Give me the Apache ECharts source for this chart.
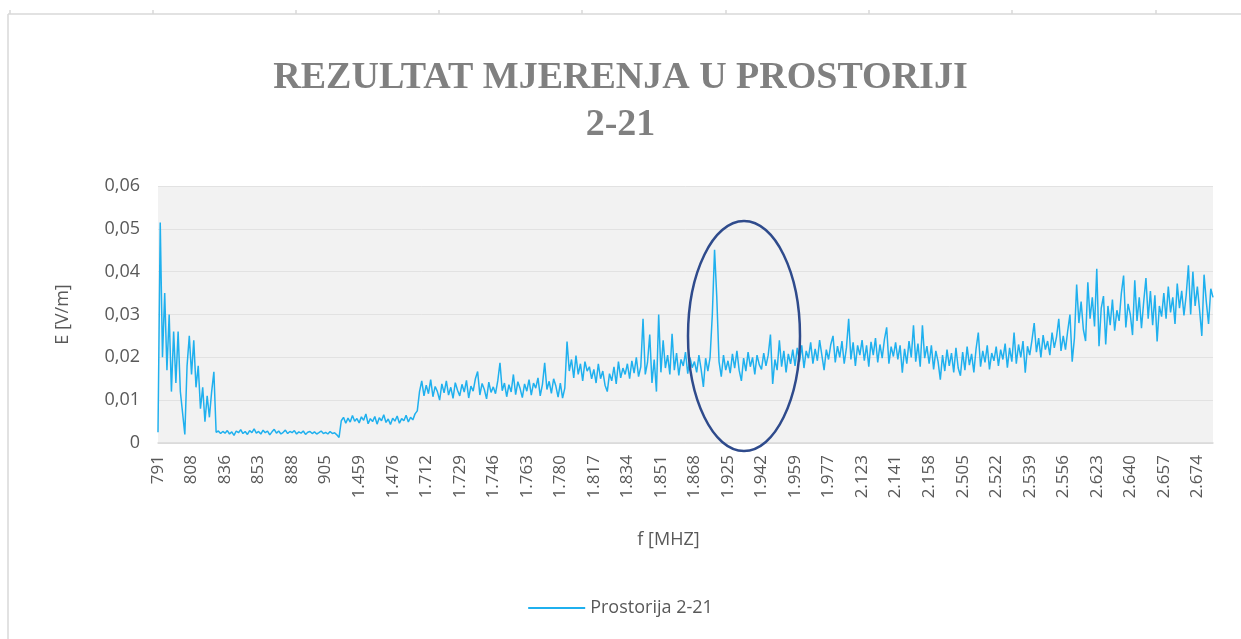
<!DOCTYPE html>
<html>
<head>
<meta charset="utf-8">
<script src="https://cdn.jsdelivr.net/npm/echarts@6/dist/echarts.min.js"></script>
<style>
  html, body { margin: 0; padding: 0; background: #fff; }
  #main1 { width: 1241px; height: 639px; }
</style>
</head>
<body>
<div id="main1"></div>
<script>
    // oznake na x osi (svaka 15. točka mjerenja)
    var tickLabels = ['791','808','836','853','888','905','1.459','1.476','1.712','1.729','1.746','1.763','1.780','1.817','1.834','1.851',
        '1.868','1.925','1.942','1.959','1.977','2.123','2.141','2.158','2.505','2.522','2.539','2.556','2.623','2.640','2.657','2.674'];
    var pointsPerLabel = 15;

    // E [V/m], jedan red = jedan razmak između oznaka
    var prostorija = [
        0.0025,0.0515,0.020,0.035,0.017,0.030,0.012,0.026,0.014,0.026,0.012,0.007,0.002,0.018,0.025,
        0.016,0.024,0.013,0.018,0.008,0.013,0.005,0.011,0.006,0.012,0.0166,0.0025,0.0028,0.0022,0.0027,
        0.0023,0.0029,0.0021,0.0026,0.0018,0.0028,0.0024,0.0031,0.0022,0.0027,0.0020,0.0029,0.0024,0.0033,0.0023,
        0.0027,0.0021,0.0030,0.0024,0.0028,0.0019,0.0026,0.0032,0.0023,0.0028,0.0021,0.0025,0.0030,0.0022,0.0027,
        0.0024,0.0029,0.0021,0.0026,0.0023,0.0028,0.0020,0.0025,0.0027,0.0022,0.0026,0.0021,0.0024,0.0028,0.0022,
        0.0025,0.0021,0.0027,0.0022,0.0024,0.0019,0.0013,0.0052,0.0060,0.0046,0.0058,0.0049,0.0064,0.0051,0.0057,
        0.0047,0.0061,0.0053,0.0068,0.0045,0.0057,0.0050,0.0062,0.0044,0.0059,0.0052,0.0066,0.0048,0.0056,0.0043,
        0.0058,0.0051,0.0063,0.0046,0.0057,0.0052,0.0065,0.0049,0.0060,0.0054,0.0068,0.0075,0.0120,0.0145,0.0110,
        0.0135,0.0115,0.0148,0.0108,0.0132,0.0120,0.0100,0.0138,0.0117,0.0145,0.0112,0.0130,0.0104,0.0141,0.0123,
        0.0110,0.0137,0.0119,0.0146,0.0105,0.0133,0.0121,0.0150,0.0167,0.0112,0.0139,0.0125,0.0103,0.0142,0.0118,
        0.0131,0.0115,0.0145,0.0187,0.0122,0.0140,0.0108,0.0136,0.0119,0.0160,0.0113,0.0143,0.0127,0.0106,0.0138,
        0.0121,0.0148,0.0112,0.0140,0.0128,0.0152,0.0110,0.0137,0.0187,0.0125,0.0144,0.0116,0.0150,0.0133,0.0107,
        0.0140,0.0105,0.0128,0.0237,0.0168,0.0195,0.0152,0.0204,0.0160,0.0185,0.0145,0.0190,0.0168,0.0178,0.0150,
        0.0172,0.0140,0.0185,0.0150,0.0168,0.0135,0.0120,0.0162,0.0145,0.0178,0.0138,0.0190,0.0152,0.0175,0.0160,
        0.0185,0.0150,0.0192,0.0163,0.0200,0.0155,0.0178,0.0290,0.0160,0.0188,0.0253,0.0140,0.0195,0.0120,0.0300,
        0.0165,0.0240,0.0175,0.0205,0.0160,0.0255,0.0170,0.0210,0.0158,0.0195,0.0180,0.0212,0.0162,0.0200,0.0176,
        0.0190,0.0165,0.0205,0.0172,0.0131,0.0198,0.0168,0.0200,0.0300,0.0451,0.0340,0.0190,0.0155,0.0205,0.0170,
        0.0192,0.0163,0.0208,0.0175,0.0215,0.0170,0.0145,0.0198,0.0168,0.0212,0.0178,0.0200,0.0160,0.0205,0.0183,
        0.0172,0.0210,0.0180,0.0205,0.0253,0.0138,0.0195,0.0170,0.0240,0.0178,0.0215,0.0165,0.0208,0.0185,0.0218,
        0.0180,0.0222,0.0190,0.0228,0.0175,0.0215,0.0198,0.0235,0.0185,0.0220,0.0192,0.0240,0.0205,0.0170,0.0218,
        0.0195,0.0230,0.0250,0.0188,0.0226,0.0200,0.0238,0.0185,0.0222,0.0290,0.0195,0.0235,0.0180,0.0228,0.0205,
        0.0240,0.0192,0.0228,0.0178,0.0236,0.0205,0.0245,0.0188,0.0230,0.0198,0.0242,0.0270,0.0185,0.0225,0.0202,
        0.0235,0.0195,0.0228,0.0164,0.0220,0.0185,0.0238,0.0200,0.0275,0.0190,0.0232,0.0178,0.0275,0.0198,0.0226,
        0.0185,0.0228,0.0172,0.0215,0.0190,0.0148,0.0205,0.0168,0.0218,0.0180,0.0210,0.0165,0.0222,0.0175,0.0157,
        0.0212,0.0170,0.0225,0.0182,0.0208,0.0165,0.0220,0.0258,0.0178,0.0215,0.0188,0.0228,0.0172,0.0210,0.0192,
        0.0225,0.0180,0.0218,0.0195,0.0232,0.0176,0.0222,0.0190,0.0258,0.0185,0.0230,0.0200,0.0238,0.0164,0.0226,
        0.0205,0.0240,0.0280,0.0212,0.0245,0.0200,0.0252,0.0218,0.0238,0.0205,0.0258,0.0222,0.0248,0.0290,0.0215,
        0.0250,0.0218,0.0262,0.0300,0.0190,0.0245,0.0370,0.0280,0.0330,0.0265,0.0238,0.0375,0.0290,0.0340,0.0272,
        0.0407,0.0226,0.0315,0.0343,0.0230,0.0320,0.0275,0.0335,0.0262,0.0310,0.0285,0.0350,0.0391,0.0270,0.0325,
        0.0300,0.0252,0.0380,0.0285,0.0340,0.0268,0.0330,0.0385,0.0290,0.0355,0.0275,0.0345,0.0237,0.0320,0.0295,
        0.0350,0.0290,0.0365,0.0305,0.0340,0.0278,0.0372,0.0315,0.0355,0.0298,0.0345,0.0415,0.0300,0.0400,0.0320,
        0.0365,0.0310,0.0250,0.0393,0.0330,0.0278,0.0360,0.0340
    ];

    var yTicks = [0, 0.01, 0.02, 0.03, 0.04, 0.05, 0.06];

    var myChart = echarts.init(document.getElementById('main1'));

    var tekst = '#595959';
    var okvir = '#d9d9d9';
    // crtice na gornjem rubu (kao u Excelu)
    var crtice = [10, 153, 296, 439, 582, 726, 869, 1012, 1156].map(function (x) {
        return { type: 'line', shape: { x1: x, y1: 10, x2: x, y2: 14 }, style: { stroke: okvir, lineWidth: 1.5 } };
    });

    var option = {
        backgroundColor: '#ffffff',
        animation: false,
        title: {
            text: 'REZULTAT MJERENJA U PROSTORIJI\n2-21',
            left: 'center',
            top: 50,
            textStyle: {
                fontFamily: 'Liberation Serif',
                fontWeight: 'bold',
                fontSize: 38,
                lineHeight: 47,
                color: '#808080'
            }
        },
        legend: {
            bottom: 17,
            left: 'center',
            icon: 'rect',
            itemWidth: 57,
            itemHeight: 2,
            itemGap: 8,
            textStyle: { fontFamily: 'Open Sans', fontSize: 18, color: tekst },
            data: ['Prostorija 2-21']
        },
        grid: {
            left: 158,
            right: 28,
            top: 186,
            bottom: 196,
            show: true,
            backgroundColor: '#f2f2f2',
            borderWidth: 0
        },
        xAxis: {
            type: 'category',
            boundaryGap: false,
            data: prostorija.map(function (v, i) { return i; }),
            name: 'f [MHZ]',
            nameLocation: 'middle',
            nameGap: 88,
            nameTextStyle: { fontFamily: 'Open Sans', fontSize: 18, color: tekst, padding: [0, 34, 0, 0] },
            axisLine: { lineStyle: { color: okvir, width: 1.5 } },
            axisTick: { show: false },
            splitLine: { show: false },
            axisLabel: {
                interval: pointsPerLabel - 1,
                rotate: 90,
                margin: 12,
                fontFamily: 'Open Sans',
                fontSize: 17,
                color: tekst,
                formatter: function (v, i) {
                    return tickLabels[Math.round(i / pointsPerLabel)] || '';
                }
            }
        },
        yAxis: {
            type: 'value',
            min: yTicks[0],
            max: yTicks[yTicks.length - 1],
            interval: 0.01,
            name: 'E [V/m]',
            nameLocation: 'middle',
            nameGap: 86,
            nameRotate: 90,
            nameTextStyle: { fontFamily: 'Open Sans', fontSize: 18, color: tekst },
            axisLine: { show: false },
            axisTick: { show: false },
            splitLine: { lineStyle: { color: '#e2e2e2', width: 1 } },
            axisLabel: {
                margin: 18,
                fontFamily: 'Open Sans',
                fontSize: 18,
                color: tekst,
                formatter: function (v) {
                    return v === 0 ? '0' : v.toFixed(2).replace('.', ',');
                }
            }
        },
        graphic: crtice.concat([
            { type: 'line', shape: { x1: 8, y1: 14, x2: 1241, y2: 14 }, style: { stroke: okvir, lineWidth: 1.5 } },
            { type: 'line', shape: { x1: 8, y1: 14, x2: 8, y2: 639 }, style: { stroke: okvir, lineWidth: 1.5 } },
            {
                type: 'ellipse',
                z: 100,
                shape: { cx: 744, cy: 336, rx: 56, ry: 115 },
                style: { fill: null, stroke: '#2f4b8c', lineWidth: 2.5 }
            }
        ]),
        series: [
            {
                name: 'Prostorija 2-21',
                type: 'line',
                showSymbol: false,
                symbol: 'none',
                color: '#1fb0ee',
                lineStyle: { width: 1.5, color: '#1fb0ee' },
                data: prostorija
            }
        ]
    };
    myChart.setOption(option);
</script>
</body>
</html>
